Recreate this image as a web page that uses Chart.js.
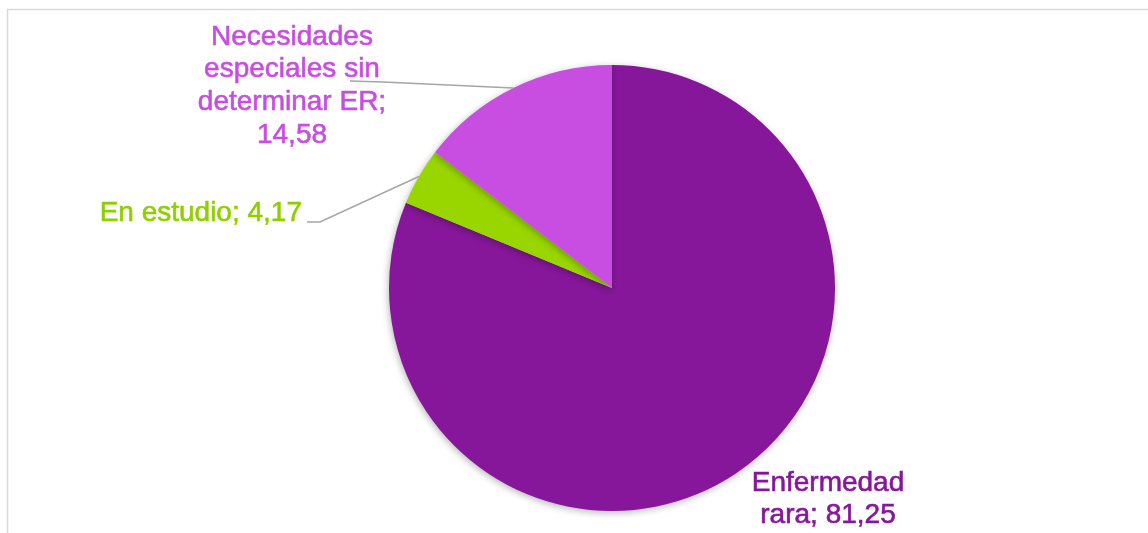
<!DOCTYPE html>
<html>
<head>
<meta charset="utf-8">
<script src="https://cdn.jsdelivr.net/npm/chart.js@4"></script>
<style>
  html, body { margin: 0; padding: 0; background: #fff; }
  #wrap { width: 1148px; height: 533px; position: relative; }
</style>
</head>
<body>
<div id="wrap"><canvas id="chart1" width="1148" height="533"></canvas></div>
<script>
var categories = ['Enfermedad rara', 'En estudio', 'Necesidades especiales sin determinar ER'];
var values = [81.25, 4.17, 14.58];
var colors = ['#86179A', '#99D600', '#C74EE0'];
var labelColors = ['#86179A', '#8FCF00', '#C74EE0'];

// where each label sits and how it wraps (position only, not data)
var labelLayout = [
  { x: 828, y: 483, align: 'center', lines: ['Enfermedad', 'rara; {v}'], leader: false },
  { x: 302, y: 213, align: 'right', lines: ['En estudio; {v}'], leader: true, elbow: [[307, 222], [320, 222]] },
  { x: 292, y: 37, align: 'center', lines: ['Necesidades', 'especiales sin', 'determinar ER;', '{v}'], leader: true, elbow: [[350, 81], [383, 82]] }
];

function fmt(v) { return v.toFixed(2).replace('.', ','); }

var labelsPlugin = {
  id: 'pieLabels',
  beforeDraw: function(chart) {
    var ctx = chart.ctx;
    ctx.save();
    ctx.strokeStyle = '#D9D9D9';
    ctx.lineWidth = 1.5;
    ctx.strokeRect(7.5, 9.5, 1300, 700);
    ctx.restore();
  },
  beforeDatasetDraw: function(chart) {
    var ctx = chart.ctx;
    ctx.save();
    ctx.shadowColor = 'rgba(0,0,0,0.28)';
    ctx.shadowBlur = 7;
    ctx.shadowOffsetX = -1;
    ctx.shadowOffsetY = 2;
  },
  afterDatasetDraw: function(chart) {
    chart.ctx.restore();
  },
  afterDraw: function(chart) {
    var ctx = chart.ctx;
    var meta = chart.getDatasetMeta(0);
    ctx.save();
    ctx.font = '28px "Liberation Sans", Arial, sans-serif';
    ctx.textBaseline = 'middle';
    meta.data.forEach(function(arc, i) {
      var lay = labelLayout[i];
      var p = arc.getProps(['x', 'y', 'startAngle', 'endAngle', 'outerRadius'], true);
      var mid = (p.startAngle + p.endAngle) / 2;
      if (lay.leader) {
        var ex = p.x + Math.cos(mid) * p.outerRadius;
        var ey = p.y + Math.sin(mid) * p.outerRadius;
        ctx.strokeStyle = '#A6A6A6';
        ctx.lineWidth = 1.5;
        ctx.beginPath();
        ctx.moveTo(lay.elbow[0][0], lay.elbow[0][1]);
        ctx.lineTo(lay.elbow[1][0], lay.elbow[1][1]);
        ctx.lineTo(ex, ey);
        ctx.stroke();
      }
      ctx.fillStyle = labelColors[i];
      ctx.strokeStyle = labelColors[i];
      ctx.lineWidth = 0.6;
      ctx.textAlign = lay.align;
      lay.lines.forEach(function(line, k) {
        var t = line.replace('{v}', fmt(values[i]));
        ctx.fillText(t, lay.x, lay.y + k * 32.7);
        ctx.strokeText(t, lay.x, lay.y + k * 32.7);
      });
    });
    ctx.restore();
  }
};

new Chart(document.querySelector('#chart1'), {
  type: 'pie',
  data: {
    labels: categories,
    datasets: [{
      data: values,
      backgroundColor: colors,
      borderWidth: 0
    }]
  },
  options: {
    responsive: false,
    animation: false,
    layout: { padding: { left: 389, right: 313, top: 65, bottom: 22 } },
    plugins: {
      legend: { display: false },
      tooltip: { enabled: false }
    }
  },
  plugins: [labelsPlugin]
});
</script>
</body>
</html>
